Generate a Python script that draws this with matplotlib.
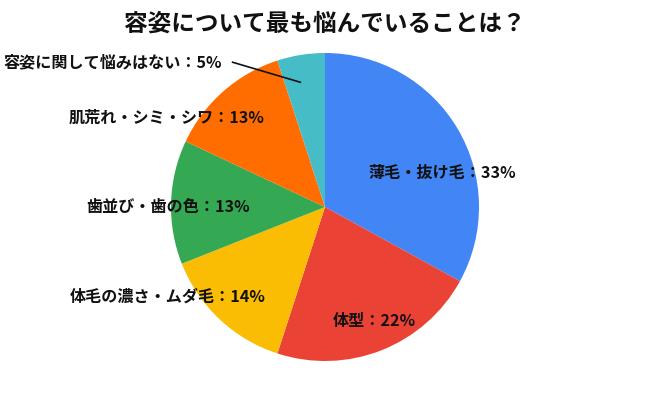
import matplotlib.pyplot as plt

plt.rcParams['font.family'] = ['Noto Sans CJK JP', 'DejaVu Sans']

# Data
categories = ['薄毛・抜け毛', '体型', '体毛の濃さ・ムダ毛', '歯並び・歯の色', '肌荒れ・シミ・シワ', '容姿に関して悩みはない']
values = [33, 22, 14, 13, 13, 5]
colors = ['#4285F4', '#EA4335', '#FBBC04', '#34A853', '#FF6D01', '#46BDC6']

# label positions relative to pie centre (radius = 1)
label_pos = [(0.76, 0.22), (0.32, -0.74), (-1.02, -0.58), (-1.02, 0.0), (-1.03, 0.58), (-1.38, 0.94)]

fig = plt.figure(figsize=(6.5, 4), dpi=100)
ax = fig.add_axes([171 / 650, 39 / 400, 308 / 650, 308 / 400])

ax.pie(values, colors=colors, startangle=90, counterclock=False, radius=1,
       wedgeprops=dict(linewidth=0))
ax.set_xlim(-1, 1)
ax.set_ylim(-1, 1)
ax.set_aspect('equal')
ax.axis('off')

for cat, val, (x, y) in zip(categories, values, label_pos):
    ax.text(x, y, f'{cat}：{val}%', ha='center', va='center', fontsize=11.6,
            fontweight='bold', color='#111111', clip_on=False)

# leader line for the small slice
ax.plot([-0.60, -0.16], [0.94, 0.81], color='#111111', linewidth=1.2, clip_on=False)

fig.suptitle('容姿について最も悩んでいることは？', x=0.5, y=0.97, fontsize=17,
             fontweight='bold', color='#111111')

fig.savefig('out.png', dpi=100)
